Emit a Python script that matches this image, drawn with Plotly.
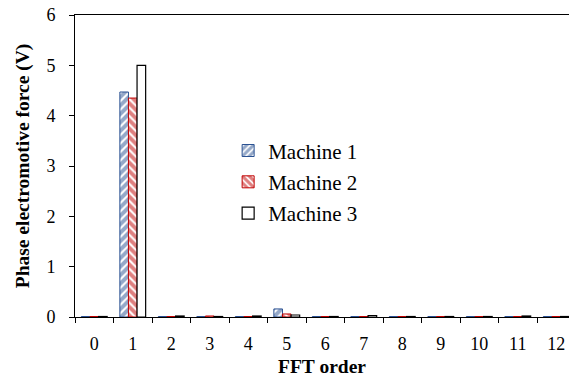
import plotly.graph_objects as go

orders = list(range(13))
tick_labels = [str(i) for i in orders]
machine1 = [0.01, 4.47, 0.01, 0.01, 0.01, 0.16, 0.01, 0.01, 0.01, 0.01, 0.01, 0.01, 0.01]
machine2 = [0.01, 4.35, 0.01, 0.02, 0.01, 0.06, 0.01, 0.01, 0.01, 0.01, 0.01, 0.01, 0.01]
machine3 = [0.01, 5.00, 0.02, 0.01, 0.02, 0.04, 0.01, 0.03, 0.01, 0.01, 0.01, 0.02, 0.01]

FONT = "Liberation Serif"
BLUE = "#2A5192"
RED = "#C00000"

fig = go.Figure()
fig.add_trace(go.Bar(
    x=orders, y=machine1, name="Machine 1", legendgroup="a",
    marker=dict(color="white", line=dict(color=BLUE, width=1),
                pattern=dict(shape="/", fgcolor=BLUE, bgcolor="white", size=6, solidity=0.65)),
))
fig.add_trace(go.Bar(
    x=orders, y=machine2, name="Machine 2", legendgroup="b",
    marker=dict(color="white", line=dict(color=RED, width=1),
                pattern=dict(shape="\\", fgcolor=RED, bgcolor="white", size=6, solidity=0.65)),
))
fig.add_trace(go.Bar(
    x=orders, y=machine3, name="Machine 3", legendgroup="c",
    marker=dict(color="white", line=dict(color="black", width=1.2)),
))

boundaries = [i - 0.5 for i in range(14)]

fig.update_layout(
    width=569, height=380,
    margin=dict(l=75, r=0, t=15, b=63),
    paper_bgcolor="white", plot_bgcolor="white",
    barmode="group", bargap=0.33, bargroupgap=0,
    font=dict(family=FONT, size=18, color="black"),
    showlegend=True,
    legend=dict(x=0.31, y=0.618, xanchor="left", yanchor="top",
                bgcolor="rgba(0,0,0,0)", font=dict(family=FONT, size=21),
                tracegroupgap=1, itemwidth=30),
    xaxis=dict(
        range=[-0.5, 12.33], tickmode="array", tickvals=orders, ticktext=tick_labels,
        ticks="", showgrid=False, zeroline=False, ticklabelstandoff=10,
        showline=True, linecolor="black", linewidth=1, mirror=True,
        minor=dict(tickvals=boundaries, ticks="outside", ticklen=5, tickcolor="black", showgrid=False),
        title=dict(text="<b>FFT order</b>", font=dict(family=FONT, size=19.5), standoff=6),
        tickfont=dict(family=FONT, size=18),
    ),
    yaxis=dict(
        range=[0, 6], tickmode="array", tickvals=[0, 1, 2, 3, 4, 5, 6],
        ticks="outside", ticklen=5, tickcolor="black", showgrid=False, zeroline=False,
        ticklabelstandoff=10,
        showline=True, linecolor="black", linewidth=1,
        title=dict(text="<b>Phase electromotive force (V)</b>", font=dict(family=FONT, size=19.5), standoff=11),
        tickfont=dict(family=FONT, size=18),
    ),
)

fig.write_html("out.html")
